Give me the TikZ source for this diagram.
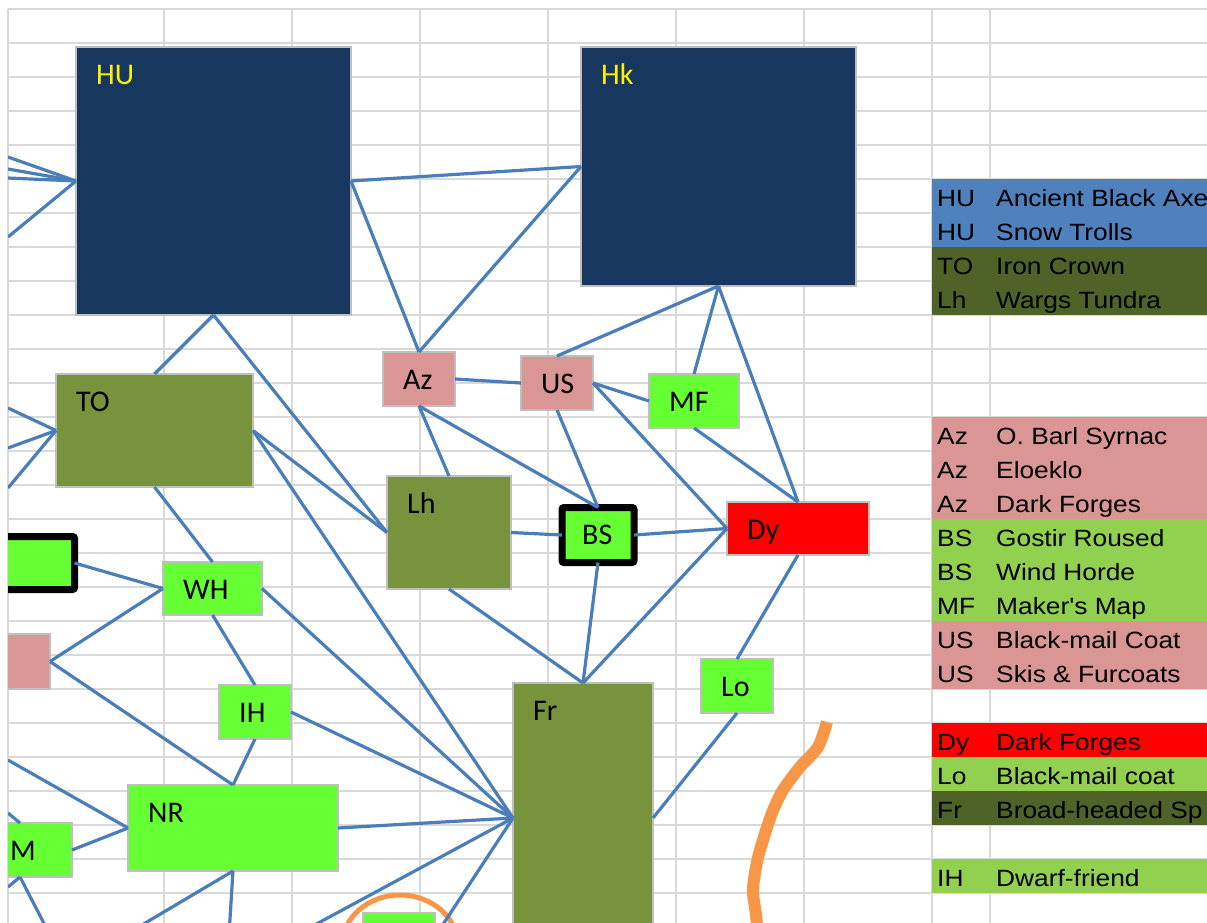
\documentclass[tikz,border=0pt]{standalone}
\usepackage{fontspec}
\newfontfamily\lblfont{Carlito}
\newfontfamily\legfont[FakeStretch=1.12]{Liberation Sans}
\definecolor{navy}{HTML}{17375E}
\definecolor{olive}{HTML}{77933C}
\definecolor{pinkbox}{HTML}{D99694}
\definecolor{brightgreen}{HTML}{66FF33}
\definecolor{boxgray}{HTML}{BFBFBF}
\definecolor{conncol}{HTML}{4A7EBB}
\definecolor{gridcol}{HTML}{D9D9D9}
\definecolor{legblue}{HTML}{4F81BD}
\definecolor{legolive}{HTML}{4F6228}
\definecolor{legpink}{HTML}{DA9694}
\definecolor{leggreen}{HTML}{92D050}
\definecolor{orangeline}{HTML}{F79646}
\tikzset{
  box/.style={draw=boxgray, line width=1.5pt, inner sep=0pt, outer sep=0pt, rectangle},
  navybox/.style={box, fill=navy},
  olivebox/.style={box, fill=olive},
  pinkb/.style={box, fill=pinkbox},
  greenbox/.style={box, fill=brightgreen},
  redbox/.style={box, fill=red},
  heavybox/.style={draw=black, line width=7pt, fill=brightgreen, rounded corners=2pt, inner sep=0pt, outer sep=0pt, rectangle},
  lbl/.style={font=\lblfont\fontsize{30}{36}\selectfont, inner sep=0pt, anchor=base west, text=black},
  ylbl/.style={lbl, text=yellow},
  conn/.style={draw=conncol, line width=3.2pt},
  gridline/.style={draw=gridcol, line width=1.5pt},
  legtext/.style={font=\legfont\fontsize{23.5}{28}\selectfont, inner sep=0pt, anchor=base west, text=black},
  orangestroke/.style={draw=orangeline, line width=5pt},
  orangefree/.style={draw=orangeline, line width=12pt}
}
\begin{document}
\begin{tikzpicture}[x=1pt,y=-1pt]
\useasboundingbox (0,0) rectangle (1207,922);
\fill[white] (0,0) rectangle (1207,922);
\begin{scope}
\clip (0,0) rectangle (1207,922);
\foreach \gx in {8,164,292,420,548,676,804,932,990}
  \draw[gridline] (\gx,9) -- (\gx,930);
\foreach \k in {0,...,26}
  \draw[gridline] (8,{9+34*\k}) -- (1210,{9+34*\k});
\end{scope}

\begin{scope}
\clip (8,0) rectangle (1207,922);
% main nodes
\node[navybox, minimum width=275pt, minimum height=268pt] (HU) at (213.5,181) {};
\node[ylbl] (HUl) at ([shift={(20,37)}]HU.north west) {HU};
\node[navybox, minimum width=275pt, minimum height=239pt] (Hk) at (718.5,166.5) {};
\node[ylbl] (Hkl) at ([shift={(20,37)}]Hk.north west) {Hk};
\node[pinkb, minimum width=72pt, minimum height=54pt] (Az) at (419,379) {};
\node[lbl] (Azl) at ([shift={(20,37)}]Az.north west) {Az};
\node[pinkb, minimum width=72pt, minimum height=54pt] (US) at (557,383) {};
\node[lbl] (USl) at ([shift={(20,37)}]US.north west) {US};
\node[greenbox, minimum width=90pt, minimum height=54pt] (MF) at (694,401) {};
\node[lbl] (MFl) at ([shift={(20,37)}]MF.north west) {MF};
\node[olivebox, minimum width=197pt, minimum height=113pt] (TO) at (154.5,430.5) {};
\node[lbl] (TOl) at ([shift={(20,37)}]TO.north west) {TO};
\node[olivebox, minimum width=124pt, minimum height=113pt] (Lh) at (449,532.5) {};
\node[lbl] (Lhl) at ([shift={(20,37)}]Lh.north west) {Lh};
\node[heavybox, minimum width=72pt, minimum height=55pt] (BS) at (598,535) {};
\node[lbl] (BSl) at ([shift={(20,37)}]BS.north west) {BS};
\node[redbox, minimum width=142pt, minimum height=53pt] (Dy) at (798,528.5) {};
\node[lbl] (Dyl) at ([shift={(20,37)}]Dy.north west) {Dy};
\node[greenbox, minimum width=99pt, minimum height=53pt] (WH) at (212.5,588.5) {};
\node[lbl] (WHl) at ([shift={(20,37)}]WH.north west) {WH};
\node[heavybox, minimum width=105pt, minimum height=53pt] (LB) at (22,563) {};
\node[pinkb, minimum width=72pt, minimum height=55pt] (PL) at (14,661.5) {};
\node[greenbox, minimum width=72pt, minimum height=54pt] (IH) at (255,712) {};
\node[lbl] (IHl) at ([shift={(20,37)}]IH.north west) {IH};
\node[greenbox, minimum width=72pt, minimum height=54pt] (Lo) at (737,686) {};
\node[lbl] (Lol) at ([shift={(20,37)}]Lo.north west) {Lo};
\node[olivebox, minimum width=140pt, minimum height=270pt] (Fr) at (583,818) {};
\node[lbl] (Frl) at ([shift={(20,37)}]Fr.north west) {Fr};
\node[greenbox, minimum width=210pt, minimum height=86pt] (NR) at (233,828) {};
\node[lbl] (NRl) at ([shift={(20,37)}]NR.north west) {NR};
\node[greenbox, minimum width=104pt, minimum height=54pt] (M) at (20,850) {};
\node[lbl] (Ml) at (10,860) {M};
\node[greenbox, minimum width=72pt, minimum height=54pt] (SB) at (399,940) {};

% free ends
\coordinate (e1) at (8,157);
\coordinate (e2) at (8,169);
\coordinate (e3) at (8,178);
\coordinate (e4) at (8,237);
\coordinate (e5) at (8,408);
\coordinate (e6) at (8,448);
\coordinate (e7) at (8,488);
\coordinate (e8) at (8,760);
\coordinate (e9) at (8,813);
\coordinate (e10) at (8,887);
\coordinate (b1) at (50,935);
\coordinate (b2) at (125,935);
\coordinate (b3) at (229,935);
\coordinate (b4) at (296,935);
\coordinate (b5) at (436,935);

\draw[orangestroke] (400,946) ellipse [x radius=58, y radius=51];

\draw[conn] (e1) -- (HU.west);
\draw[conn] (e2) -- (HU.west);
\draw[conn] (e3) -- (HU.west);
\draw[conn] (e4) -- (HU.west);
\draw[conn] (HU.east) -- (Hk.west);
\draw[conn] (HU.east) -- (Az.north);
\draw[conn] (Hk.west) -- (Az.north);
\draw[conn] (HU.south) -- (TO.north);
\draw[conn] (HU.south) -- (Lh.west);
\draw[conn] (Hk.south) -- (US.north);
\draw[conn] (Hk.south) -- (MF.north);
\draw[conn] (Hk.south) -- (Dy.north);
\draw[conn] (Az.east) -- (US.west);
\draw[conn] (Az.south) -- (Lh.north);
\draw[conn] (Az.south) -- (BS.north);
\draw[conn] (US.south) -- (BS.north);
\draw[conn] (US.east) -- (MF.west);
\draw[conn] (US.east) -- (Dy.west);
\draw[conn] (MF.south) -- (Dy.north);
\draw[conn] (Lh.east) -- (BS.west);
\draw[conn] (Lh.south) -- (Fr.north);
\draw[conn] (TO.east) -- (Lh.west);
\draw[conn] (TO.east) -- (Fr.west);
\draw[conn] (BS.east) -- (Dy.west);
\draw[conn] (BS.south) -- (Fr.north);
\draw[conn] (Dy.west) -- (Fr.north);
\draw[conn] (Dy.south) -- (Lo.north);
\draw[conn] (Lo.south) -- (Fr.east);
\draw[conn] (e5) -- (TO.west);
\draw[conn] (e6) -- (TO.west);
\draw[conn] (e7) -- (TO.west);
\draw[conn] (TO.south) -- (WH.north);
\draw[conn] (LB.east) -- (WH.west);
\draw[conn] (PL.east) -- (WH.west);
\draw[conn] (PL.east) -- (NR.north);
\draw[conn] (WH.south) -- (IH.north);
\draw[conn] (WH.east) -- (Fr.west);
\draw[conn] (IH.east) -- (Fr.west);
\draw[conn] (IH.south) -- (NR.north);
\draw[conn] (NR.east) -- (Fr.west);
\draw[conn] (e8) -- (NR.west);
\draw[conn] (M.east) -- (NR.west);
\draw[conn] (e9) -- (M.north);
\draw[conn] (M.south) -- (e10);
\draw[conn] (M.south) -- (b1);
\draw[conn] (NR.south) -- (b2);
\draw[conn] (NR.south) -- (b3);
\draw[conn] (b4) -- (Fr.west);
\draw[conn] (b5) -- (Fr.west);

\draw[orangefree] plot[smooth] coordinates {(827,722) (818,747) (800,767) (783,790) (772,813) (763,840) (757,862) (753,890) (756,915) (758,935)};
\end{scope}

% legend
\begin{scope}
\clip (0,0) rectangle (1207,922);
\foreach \ry/\fc/\ca/\cb in {
  179/legblue/HU/Ancient Black Axe,
  213/legblue/HU/Snow Trolls,
  247/legolive/TO/Iron Crown,
  281/legolive/Lh/Wargs Tundra,
  417/legpink/Az/O. Barl Syrnac,
  451/legpink/Az/Eloeklo,
  485/legpink/Az/Dark Forges,
  519/leggreen/BS/Gostir Roused,
  553/leggreen/BS/Wind Horde,
  587/leggreen/MF/Maker's Map,
  621/legpink/US/Black-mail Coat,
  655/legpink/US/Skis \& Furcoats,
  723/red/Dy/Dark Forges,
  757/leggreen/Lo/Black-mail coat,
  791/legolive/Fr/Broad-headed Sp,
  859/leggreen/IH/Dwarf-friend}
{
  \fill[\fc] (932,\ry) rectangle (1210,{\ry+34});
  \node[legtext] at (937,{\ry+27}) {\ca};
  \node[legtext] at (996,{\ry+27}) {\cb};
}
\end{scope}
\end{tikzpicture}
\end{document}
